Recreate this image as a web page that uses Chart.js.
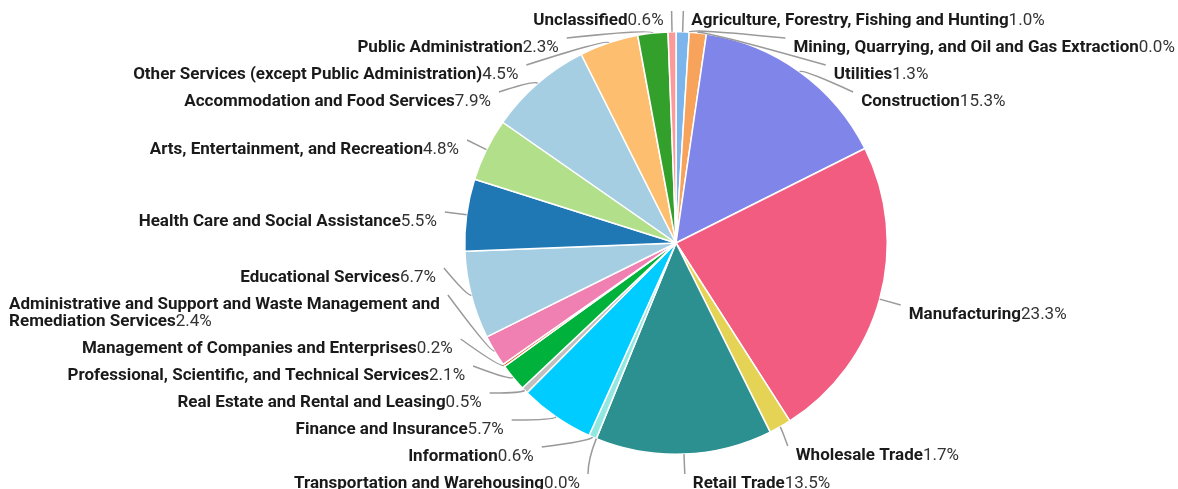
<!DOCTYPE html>
<html>
<head>
<meta charset="utf-8">
<script src="https://cdn.jsdelivr.net/npm/chart.js@4.4.1/dist/chart.umd.min.js"></script>
<style>
  html, body { margin: 0; padding: 0; background: #fff; }
  #contenedor { width: 1178px; height: 489px; position: relative; }
</style>
</head>
<body>
<div id="contenedor"><canvas id="pieChart"></canvas></div>
<script>
// Sectores (en el orden del gráfico, empezando arriba y en sentido horario)
const sectores = [
  'Agriculture, Forestry, Fishing and Hunting',
  'Mining, Quarrying, and Oil and Gas Extraction',
  'Utilities',
  'Construction',
  'Manufacturing',
  'Wholesale Trade',
  'Retail Trade',
  'Transportation and Warehousing',
  'Information',
  'Finance and Insurance',
  'Real Estate and Rental and Leasing',
  'Professional, Scientific, and Technical Services',
  'Management of Companies and Enterprises',
  'Administrative and Support and Waste Management and Remediation Services',
  'Educational Services',
  'Health Care and Social Assistance',
  'Arts, Entertainment, and Recreation',
  'Accommodation and Food Services',
  'Other Services (except Public Administration)',
  'Public Administration',
  'Unclassified'
];

// Porcentaje de cada sector
const porcentajes = [1.0, 0.0, 1.3, 15.3, 23.3, 1.7, 13.5, 0.0, 0.6, 5.7, 0.5, 2.1, 0.2, 2.4, 6.7, 5.5, 4.8, 7.9, 4.5, 2.3, 0.6];

const colores = [
  '#7cb5ec', '#434348', '#f7a35c', '#8085e9', '#f15c80', '#e4d354', '#2b908f',
  '#f45b5b', '#91e8e1', '#00ccff', '#c0c0c0', '#00b23b', '#e4500e', '#f07fb2',
  '#a6cee3', '#1f78b4', '#b2df8a', '#a6cee3', '#fdbf6f', '#33a02c', '#fb9a99'
];

const LARGO_LINEA = 22;   // distancia del borde al final de la línea
const SEPARACION = 8;     // hueco entre línea y texto
const BAJADA_TEXTO = 10;  // el texto queda un poco por debajo del final de la línea
const ALTO_ETIQUETA = 27;
const ALTO_RENGLON = 17;
const fuenteNombre = 'bold 17px Roboto';
const fuenteValor = '17px Roboto';

function medir(ctx, texto, fuente) {
  ctx.font = fuente;
  return ctx.measureText(texto).width;
}

// Parte el nombre en renglones si no cabe en el ancho disponible
function partirTexto(ctx, nombre, valor, ancho) {
  const palabras = nombre.split(' ');
  const anchoValor = medir(ctx, valor, fuenteValor);
  const renglones = [];
  let actual = '';
  palabras.forEach((p, i) => {
    const prueba = actual ? actual + ' ' + p : p;
    const w = medir(ctx, prueba, fuenteNombre) + (i === palabras.length - 1 ? anchoValor : 0);
    if (w > ancho + 6 && actual) {
      renglones.push(actual);
      actual = p;
    } else {
      actual = prueba;
    }
  });
  renglones.push(actual);
  return renglones;
}

// Reparte las etiquetas de un lado para que no se pisen
function repartirLado(lista, arriba, abajo) {
  lista.sort((a, b) => a.y - b.y);
  let movido = false;
  let limite = arriba;
  lista.forEach(e => {
    if (e.y < limite) { e.y = limite; movido = true; }
    limite = e.y + e.alto;
  });
  limite = abajo;
  for (let i = lista.length - 1; i >= 0; i--) {
    const e = lista[i];
    if (e.y + e.alto > limite) { e.y = limite - e.alto; movido = true; }
    limite = e.y;
  }
  limite = arriba;
  lista.forEach(e => {
    if (e.y < limite) e.y = limite;
    limite = e.y + e.alto;
  });
  return movido;
}

// Recalcula x sobre una elipse (como hace ECharts)
function recalcularX(lista, cx, cy, rA) {
  const mitades = [{ lista: [], maxY: 0, rB: rA }, { lista: [], maxY: 0, rB: rA }];
  lista.forEach(e => {
    const m = e.y > cy ? mitades[1] : mitades[0];
    const dy = Math.abs(e.y - cy);
    if (dy >= m.maxY) {
      const dx = e.x - cx;
      m.rB = Math.abs(dx) < rA ? Math.sqrt(dy * dy / (1 - dx * dx / rA / rA)) : rA;
      m.maxY = dy;
    }
    m.lista.push(e);
  });
  mitades.forEach(m => {
    m.lista.forEach(e => {
      const dy = Math.abs(e.y - cy);
      const dx = Math.sqrt(Math.max(0, 1 - dy * dy / (m.rB * m.rB))) * rA;
      e.x = cx + dx * e.dir;
    });
  });
}

const etiquetasPie = {
  id: 'etiquetasPie',
  afterDatasetsDraw(chart) {
    const ctx = chart.ctx;
    const arcos = chart.getDatasetMeta(0).data;
    const cx = arcos[0].x, cy = arcos[0].y, r = arcos[0].outerRadius;
    const rA = r + LARGO_LINEA;
    const W = chart.width, H = chart.height;

    const etiquetas = arcos.map((arco, i) => {
      const ang = (arco.startAngle + arco.endAngle) / 2;
      const dir = Math.cos(ang) >= 0 ? 1 : -1;
      const x = cx + rA * Math.cos(ang);
      const y = cy + rA * Math.sin(ang);
      const valor = porcentajes[i].toFixed(1) + '%';
      const ancho = dir > 0 ? W - x - SEPARACION - 2 : x - SEPARACION - 10;
      const renglones = partirTexto(ctx, sectores[i], valor, ancho);
      return {
        ang, dir, x, y, x0: x, y0: y, valor, renglones,
        alto: ALTO_ETIQUETA + ALTO_RENGLON * (renglones.length - 1)
      };
    });

    [1, -1].forEach(d => {
      const lado = etiquetas.filter(e => e.dir === d);
      if (repartirLado(lado, 11, H + 12)) recalcularX(lado, cx, cy, rA);
    });

    etiquetas.forEach(e => {
      // línea guía
      const p0x = cx + r * Math.cos(e.ang), p0y = cy + r * Math.sin(e.ang);
      let p1x = e.x0, p1y = e.y0;
      const v1x = p1x - p0x, v1y = p1y - p0y;
      const v2x = e.x - p1x, v2y = e.y - p1y;
      const l1 = Math.hypot(v1x, v1y), l2 = Math.hypot(v2x, v2y);
      if (l2 > 1 && (v1x * v2x + v1y * v2y) < 0.5 * l1 * l2) {
        p1x = cx + (r + 4) * Math.cos(e.ang);
        p1y = cy + (r + 4) * Math.sin(e.ang);
      }
      ctx.save();
      ctx.strokeStyle = '#9a9a9a';
      ctx.lineWidth = 1.5;
      ctx.beginPath();
      ctx.moveTo(p0x, p0y);
      if (l2 > 1) ctx.quadraticCurveTo(p1x, p1y, e.x, e.y);
      else ctx.lineTo(e.x, e.y);
      ctx.stroke();

      // texto
      const anchoValor = medir(ctx, e.valor, fuenteValor);
      const anchos = e.renglones.map((t, k) =>
        medir(ctx, t, fuenteNombre) + (k === e.renglones.length - 1 ? anchoValor : 0));
      const anchoBloque = Math.max(...anchos);
      const izq = e.dir > 0 ? e.x + SEPARACION : e.x - SEPARACION - anchoBloque;
      ctx.textBaseline = 'middle';
      ctx.textAlign = 'left';
      e.renglones.forEach((t, k) => {
        const ty = e.y + BAJADA_TEXTO + k * ALTO_RENGLON;
        ctx.font = fuenteNombre;
        ctx.fillStyle = '#1a1a1a';
        ctx.fillText(t, izq, ty);
        if (k === e.renglones.length - 1) {
          const wn = ctx.measureText(t).width;
          ctx.font = fuenteValor;
          ctx.fillStyle = '#333';
          ctx.fillText(e.valor, izq + wn, ty);
        }
      });
      ctx.restore();
    });
  }
};

const ctxPie = document.getElementById('pieChart').getContext('2d');
const grafico = new Chart(ctxPie, {
  type: 'pie',
  data: {
    labels: sectores,
    datasets: [{
      data: porcentajes,
      backgroundColor: colores,
      borderColor: '#ffffff',
      borderWidth: 1.5
    }]
  },
  options: {
    responsive: true,
    maintainAspectRatio: false,
    animation: false,
    layout: { padding: { left: 464, right: 290, top: 31, bottom: 34 } },
    plugins: {
      legend: { display: false },
      tooltip: { enabled: false }
    }
  },
  plugins: [etiquetasPie]
});
</script>
</body>
</html>
